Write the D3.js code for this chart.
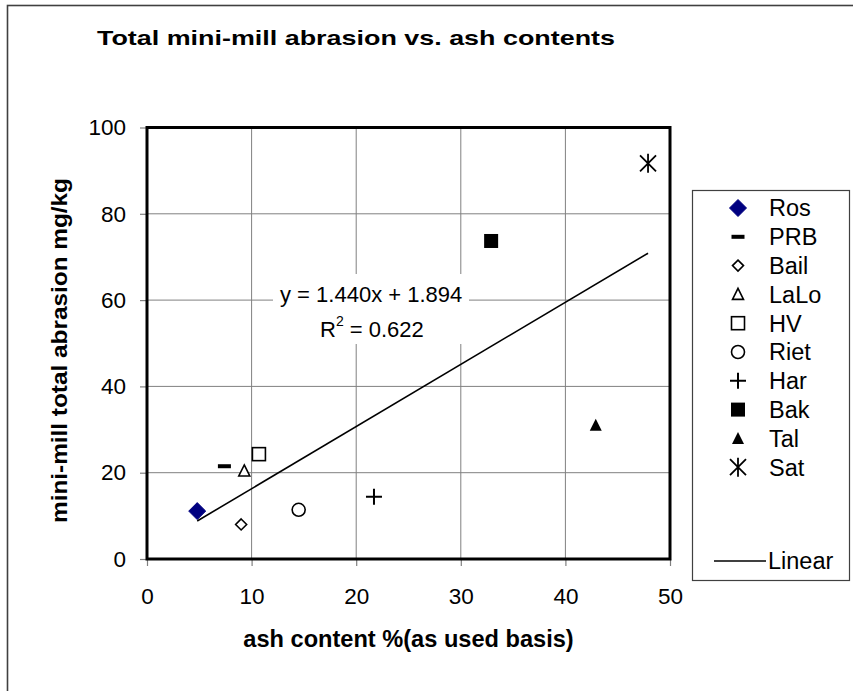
<!DOCTYPE html>
<html><head><meta charset="utf-8">
<script src="https://cdn.jsdelivr.net/npm/d3@7"></script>
<style>
html,body{margin:0;padding:0;background:#fff;}
svg{display:block;font-family:Arial,"Liberation Sans",sans-serif;}
</style></head>
<body>
<svg id="chart" width="853" height="691"></svg>
<script>
// ---- data ----
const sampleNames = ["Ros","PRB","Bail","LaLo","HV","Riet","Har","Bak","Tal","Sat"];
const ashContent  = [4.8, 7.4, 9.0, 9.3, 10.7, 14.5, 21.7, 32.9, 42.9, 47.9];
const abrasion    = [11.1, 21.5, 8.0, 20.4, 24.3, 11.4, 14.4, 73.7, 31.0, 91.7];
const markerTypes = ["diamondFill","dash","diamondOpen","triangleOpen","squareOpen","circleOpen","plus","squareFill","triangleFill","star"];
const xTickValues = [0,10,20,30,40,50];
const yTickValues = [0,20,40,60,80,100];
const trendSlope = 1.440, trendIntercept = 1.894, trendR2 = 0.622;
const chartTitle = "Total mini-mill abrasion vs. ash contents";
const xTitle = "ash content %(as used basis)";
const yTitle = "mini-mill total abrasion mg/kg";

const svg = d3.select("#chart");
const x = d3.scaleLinear().domain([0,50]).range([147,670]);
const y = d3.scaleLinear().domain([0,100]).range([559,127.5]);

// outer frame
svg.append("rect").attr("x",7.5).attr("y",5.5).attr("width",900).attr("height",800)
  .attr("fill","#fff").attr("stroke","#404040").attr("stroke-width",1.6);

// title
svg.append("text").attr("x",97).attr("y",45).attr("font-size",20.5).attr("font-weight","bold")
  .attr("textLength",518).attr("lengthAdjust","spacingAndGlyphs").text(chartTitle);

// gridlines
const g = svg.append("g");
g.selectAll(".gx").data(xTickValues.slice(1,-1)).join("line")
  .attr("x1",d=>x(d)).attr("x2",d=>x(d)).attr("y1",y(100)).attr("y2",y(0))
  .attr("stroke","#808080").attr("stroke-width",1);
g.selectAll(".gy").data(yTickValues.slice(1,-1)).join("line")
  .attr("y1",d=>y(d)).attr("y2",d=>y(d)).attr("x1",x(0)).attr("x2",x(50))
  .attr("stroke","#808080").attr("stroke-width",1);

// axes (ticks + labels)
const xAxis = svg.append("g").attr("transform",`translate(0,${y(0)})`)
  .call(d3.axisBottom(x).tickValues(xTickValues).tickSize(7).tickPadding(22).tickFormat(d3.format("d")));
const yAxis = svg.append("g").attr("transform",`translate(${x(0)},0)`)
  .call(d3.axisLeft(y).tickValues(yTickValues).tickSize(7).tickPadding(14).tickFormat(d3.format("d")));
[xAxis,yAxis].forEach(a=>{
  a.select(".domain").remove();
  a.selectAll(".tick line").attr("stroke","#808080").attr("stroke-width",1.2);
  a.selectAll(".tick text").attr("font-size",22.5).attr("fill","#000")
    .attr("font-family","Arial, 'Liberation Sans', sans-serif");
});
xAxis.selectAll(".tick text").attr("dy","0.71em");

// plot border
svg.append("rect").attr("x",x(0)).attr("y",y(100)).attr("width",x(50)-x(0)).attr("height",y(0)-y(100))
  .attr("fill","none").attr("stroke","#000").attr("stroke-width",3);

// axis titles
svg.append("text").attr("x",408.5).attr("y",647).attr("text-anchor","middle")
  .attr("font-size",23.6).attr("font-weight","bold").text(xTitle);
svg.append("text").attr("transform","translate(67,350.5) rotate(-90)").attr("text-anchor","middle")
  .attr("font-size",21.5).attr("font-weight","bold")
  .attr("textLength",345).attr("lengthAdjust","spacingAndGlyphs").text(yTitle);

// trend line
const xmin = d3.min(ashContent), xmax = d3.max(ashContent);
svg.append("line").attr("x1",x(xmin)).attr("y1",y(trendSlope*xmin+trendIntercept))
  .attr("x2",x(xmax)).attr("y2",y(trendSlope*xmax+trendIntercept))
  .attr("stroke","#000").attr("stroke-width",1.6);

// equation label
const eq = svg.append("g");
eq.append("rect").attr("x",273).attr("y",274).attr("width",196).attr("height",70).attr("fill","#fff");
eq.append("text").attr("x",280).attr("y",302).attr("font-size",22)
  .text(`y = ${trendSlope.toFixed(3)}x + ${trendIntercept.toFixed(3)}`);
const r2t = eq.append("text").attr("x",320).attr("y",337).attr("font-size",22);
r2t.append("tspan").text("R");
r2t.append("tspan").attr("font-size",14).attr("dy",-11).text("2");
r2t.append("tspan").attr("dy",11).text(` = ${trendR2.toFixed(3)}`);

// markers
function drawMarker(sel, type, cx, cy){
  const k = sel.append("g").attr("transform",`translate(${cx},${cy})`);
  const open = {fill:"#fff",stroke:"#000","stroke-width":1.6};
  const setA = (el,o)=>{for(const key in o) el.attr(key,o[key]); return el;};
  switch(type){
    case "diamondFill": k.append("path").attr("d","M0,-8.5L8.5,0L0,8.5L-8.5,0Z").attr("fill","#000080").attr("stroke","#000080"); break;
    case "dash": k.append("rect").attr("x",-6.5).attr("y",-2).attr("width",13).attr("height",4).attr("fill","#000"); break;
    case "diamondOpen": setA(k.append("path").attr("d","M0,-5.5L5.5,0L0,5.5L-5.5,0Z"),open); break;
    case "triangleOpen": setA(k.append("path").attr("d","M0,-6L5.5,5L-5.5,5Z"),open); break;
    case "squareOpen": setA(k.append("rect").attr("x",-6.5).attr("y",-6.5).attr("width",13).attr("height",13),open); break;
    case "circleOpen": setA(k.append("circle").attr("r",6.5),open); break;
    case "plus": k.append("path").attr("d","M-8,0H8M0,-8V8").attr("stroke","#000").attr("stroke-width",2); break;
    case "squareFill": k.append("rect").attr("x",-7).attr("y",-7).attr("width",14).attr("height",14).attr("fill","#000"); break;
    case "triangleFill": k.append("path").attr("d","M0,-6.5L6,5.5L-6,5.5Z").attr("fill","#000"); break;
    case "star": k.append("path").attr("d","M-8,-8L8,8M8,-8L-8,8M0,-9.5V9.5").attr("stroke","#000").attr("stroke-width",1.8); break;
  }
}
const pts = svg.append("g");
sampleNames.forEach((n,i)=>drawMarker(pts, markerTypes[i], x(ashContent[i]), y(abrasion[i])));

// legend
const lg = svg.append("g");
lg.append("rect").attr("x",692.5).attr("y",190.5).attr("width",157).attr("height",390)
  .attr("fill","#fff").attr("stroke","#404040").attr("stroke-width",1.2);
const legY = d3.scaleLinear().domain([0,1]).range([208,236.8]);
sampleNames.forEach((n,i)=>{
  drawMarker(lg, markerTypes[i], 738, legY(i));
  lg.append("text").attr("x",769).attr("y",legY(i)).attr("dy","0.36em").attr("font-size",23.5).text(n);
});
lg.append("line").attr("x1",714).attr("x2",766).attr("y1",561).attr("y2",561).attr("stroke","#000").attr("stroke-width",1.6);
lg.append("text").attr("x",768).attr("y",561).attr("dy","0.36em").attr("font-size",23.5).text("Linear");
</script>
</body></html>
